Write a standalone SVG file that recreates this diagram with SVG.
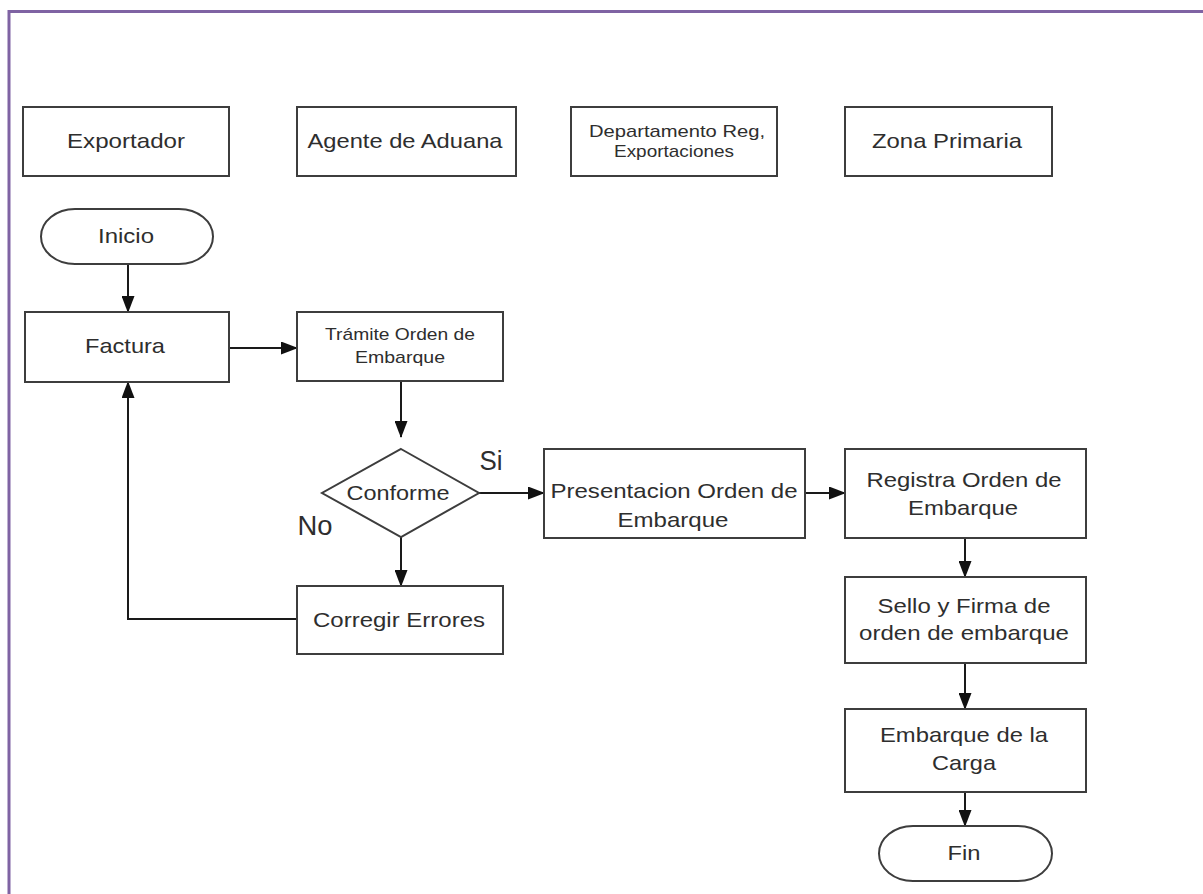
<svg xmlns="http://www.w3.org/2000/svg" width="1203" height="894" viewBox="0 0 1203 894">
  <style>
    .box { fill: #ffffff; stroke: #3d3d3d; stroke-width: 2; }
    .lbl { font-family: "Liberation Sans", Arial, sans-serif; font-size: 21px; fill: #2e2e2e; text-anchor: middle; }
    .sm { font-size: 17px; }
    .big { font-size: 27px; }
    .edge { fill: none; stroke: #1a1a1a; stroke-width: 2; }
    .frame { fill: none; stroke: #7f63a3; stroke-width: 3; }
  </style>
  <defs>
    <marker id="arrow" markerUnits="userSpaceOnUse" markerWidth="17" markerHeight="13" viewBox="0 0 17 13" refX="16" refY="6.5" orient="auto">
      <path d="M0,0 L17,6.5 L0,13 z" fill="#111111"/>
    </marker>
  </defs>

  <rect x="0" y="0" width="1203" height="894" fill="#ffffff"/>

  <!-- page frame -->
  <path class="frame" d="M9,894 L9,11.5 L1203,11.5"/>

  <!-- lane headers -->
  <g id="lane-exportador">
    <rect class="box" x="23" y="107" width="206" height="69"/>
    <text class="lbl" x="126" y="148" textLength="118" lengthAdjust="spacingAndGlyphs">Exportador</text>
  </g>
  <g id="lane-agente">
    <rect class="box" x="297" y="107" width="219" height="69"/>
    <text class="lbl" x="405" y="148" textLength="195" lengthAdjust="spacingAndGlyphs">Agente de Aduana</text>
  </g>
  <g id="lane-departamento">
    <rect class="box" x="571" y="107" width="206" height="69"/>
    <text class="lbl sm" x="677" y="137" textLength="176" lengthAdjust="spacingAndGlyphs">Departamento Reg,</text>
    <text class="lbl sm" x="674" y="157" textLength="120" lengthAdjust="spacingAndGlyphs">Exportaciones</text>
  </g>
  <g id="lane-zona">
    <rect class="box" x="845" y="107" width="207" height="69"/>
    <text class="lbl" x="947" y="148" textLength="150" lengthAdjust="spacingAndGlyphs">Zona Primaria</text>
  </g>

  <!-- connectors -->
  <g id="connectors">
    <path class="edge" d="M128,264 L128,312" marker-end="url(#arrow)"/>
    <path class="edge" d="M229,348 L297,348" marker-end="url(#arrow)"/>
    <path class="edge" d="M401,381 L401,437" marker-end="url(#arrow)"/>
    <path class="edge" d="M479,493 L544,493" marker-end="url(#arrow)"/>
    <path class="edge" d="M401,537 L401,586" marker-end="url(#arrow)"/>
    <path class="edge" d="M297,619 L128,619 L128,382" marker-end="url(#arrow)"/>
    <path class="edge" d="M805,493 L845,493" marker-end="url(#arrow)"/>
    <path class="edge" d="M965,538 L965,577" marker-end="url(#arrow)"/>
    <path class="edge" d="M965,663 L965,709" marker-end="url(#arrow)"/>
    <path class="edge" d="M965,792 L965,826" marker-end="url(#arrow)"/>
    <text class="lbl big" x="491" y="470" textLength="23" lengthAdjust="spacingAndGlyphs">Si</text>
    <text class="lbl big" x="315" y="535" textLength="35" lengthAdjust="spacingAndGlyphs">No</text>
  </g>

  <!-- flow nodes -->
  <g id="inicio">
    <rect class="box" x="41" y="209" width="172" height="55" rx="34" ry="27.5"/>
    <text class="lbl" x="126" y="243" textLength="56" lengthAdjust="spacingAndGlyphs">Inicio</text>
  </g>
  <g id="factura">
    <rect class="box" x="25" y="312" width="204" height="70"/>
    <text class="lbl" x="125" y="353" textLength="80" lengthAdjust="spacingAndGlyphs">Factura</text>
  </g>
  <g id="tramite">
    <rect class="box" x="297" y="312" width="206" height="69"/>
    <text class="lbl sm" x="400" y="340" textLength="150" lengthAdjust="spacingAndGlyphs">Trámite Orden de</text>
    <text class="lbl sm" x="400" y="363" textLength="90" lengthAdjust="spacingAndGlyphs">Embarque</text>
  </g>
  <g id="conforme">
    <polygon class="box" points="401,449 479,493 401,537 322,493"/>
    <text class="lbl" x="398" y="500" textLength="103" lengthAdjust="spacingAndGlyphs">Conforme</text>
  </g>
  <g id="corregir">
    <rect class="box" x="297" y="586" width="206" height="68"/>
    <text class="lbl" x="399" y="627" textLength="172" lengthAdjust="spacingAndGlyphs">Corregir Errores</text>
  </g>
  <g id="presentacion">
    <rect class="box" x="544" y="449" width="261" height="89"/>
    <text class="lbl" x="674" y="498" textLength="247" lengthAdjust="spacingAndGlyphs">Presentacion Orden de</text>
    <text class="lbl" x="673" y="527" textLength="111" lengthAdjust="spacingAndGlyphs">Embarque</text>
  </g>
  <g id="registra">
    <rect class="box" x="845" y="449" width="241" height="89"/>
    <text class="lbl" x="964" y="487" textLength="195" lengthAdjust="spacingAndGlyphs">Registra Orden de</text>
    <text class="lbl" x="963" y="515" textLength="110" lengthAdjust="spacingAndGlyphs">Embarque</text>
  </g>
  <g id="sello">
    <rect class="box" x="845" y="577" width="241" height="86"/>
    <text class="lbl" x="964" y="613" textLength="173" lengthAdjust="spacingAndGlyphs">Sello y Firma de</text>
    <text class="lbl" x="964" y="640" textLength="210" lengthAdjust="spacingAndGlyphs">orden de embarque</text>
  </g>
  <g id="embarque">
    <rect class="box" x="845" y="709" width="241" height="83"/>
    <text class="lbl" x="964" y="742" textLength="168" lengthAdjust="spacingAndGlyphs">Embarque de la</text>
    <text class="lbl" x="964" y="770" textLength="64" lengthAdjust="spacingAndGlyphs">Carga</text>
  </g>
  <g id="fin">
    <rect class="box" x="879" y="826" width="173" height="55" rx="34" ry="27.5"/>
    <text class="lbl" x="964" y="860" textLength="33" lengthAdjust="spacingAndGlyphs">Fin</text>
  </g>
</svg>
